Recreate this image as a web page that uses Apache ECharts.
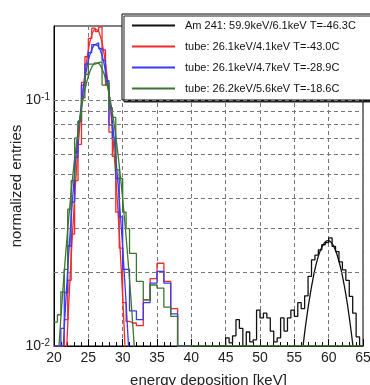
<!DOCTYPE html>
<html><head><meta charset="utf-8">
<script src="https://cdn.jsdelivr.net/npm/echarts/dist/echarts.min.js"></script>
<style>html,body{margin:0;padding:0;background:#fff}#c{width:370px;height:385px}</style>
</head><body><div id="c"></div>
<script>
// ---- data ----
const seriesNames = [
  'Am 241: 59.9keV/6.1keV T=-46.3C',
  'tube: 26.1keV/4.1keV T=-43.0C',
  'tube: 26.1keV/4.7keV T=-28.9C',
  'tube: 26.2keV/5.6keV T=-18.6C'
];
const xTicks = [20, 25, 30, 35, 40, 45, 50, 55, 60, 65];
const yGridValues = [0.02, 0.03, 0.04, 0.05, 0.06, 0.07, 0.08, 0.09, 0.1];

// tube histograms: lower bin edges (keV), bin width 0.5 keV
const tubeBinLow = [20,20.5,21,21.5,22,22.5,23,23.5,24,24.5,25,25.5,26,26.5,27,27.5,28,28.5,29,29.5,
                    30,30.5,31,31.5,32,32.5,33,33.5,34,34.5,35,35.5,36,36.5,37,37.5,38,38.5,39,39.5];
const tubeBinWidth = 0.5;
const redHist = [0.0100,0.0100,0.0100,0.0128,0.0185,0.0285,0.0470,0.0660,0.1180,0.1500,
                 0.1780,0.1960,0.1900,0.1980,0.1600,0.1150,0.0740,0.0590,0.0350,0.0250,
                 0.0150,0.0126,0.0124,0.0124,0.0121,0.0121,0.0154,0.0154,0.0188,0.0188,
                 0.0217,0.0217,0.0183,0.0183,0.0142,0.0142,0.0100,0.0100,0.0100,0.0100];
const blueHist = [0.0100,0.0100,0.0118,0.0165,0.0255,0.0385,0.0585,0.0820,0.1150,0.1400,
                  0.1560,0.1680,0.1710,0.1620,0.1450,0.1200,0.0790,0.0700,0.0480,0.0335,
                  0.0205,0.0205,0.0139,0.0139,0.0128,0.0128,0.0150,0.0150,0.0180,0.0180,
                  0.0201,0.0201,0.0180,0.0180,0.0135,0.0135,0.0100,0.0100,0.0100,0.0100];
const greenHist = [0.0125,0.0134,0.0166,0.0205,0.0360,0.0470,0.0700,0.0820,0.1020,0.1270,
                   0.1400,0.1400,0.1420,0.1430,0.1150,0.1170,0.0930,0.0850,0.0520,0.0480,
                   0.0350,0.0300,0.0238,0.0238,0.0183,0.0183,0.0154,0.0154,0.0177,0.0177,
                   0.0172,0.0172,0.0144,0.0144,0.0132,0.0132,0.0100,0.0100,0.0100,0.0100];
const greenHistEnd = 65;

// Am 241 histogram: lower bin edges (keV), bin width 0.5 keV
const amBinLow = [44,44.5,45,45.5,46,46.5,47,47.5,48,48.5,49,49.5,50,50.5,51,51.5,52,52.5,53,53.5,
                  54,54.5,55,55.5,56,56.5,57,57.5,58,58.5,59,59.5,60,60.5,61,61.5,62,62.5,63,63.5,64,64.5];
const amBinWidth = 0.5;
const amHist = [0.0100,0.0100,0.0108,0.0103,0.0110,0.0128,0.0118,0.0100,0.0114,0.0104,
                0.0106,0.0140,0.0130,0.0136,0.0130,0.0115,0.0104,0.0108,0.0130,0.0115,
                0.0130,0.0140,0.0132,0.0150,0.0142,0.0160,0.0192,0.0224,0.0234,0.0246,
                0.0258,0.0263,0.0275,0.0254,0.0242,0.0220,0.0204,0.0185,0.0159,0.0136,
                0.0109,0.0100];

// fitted curves
const redFitE = [21.5,22,22.5,23,23.5,24,24.5,25,25.5,26,26.5,27,27.5,28,28.5,29,29.5,30,30.5];
const redFitV = [0.0059,0.0122,0.0230,0.0399,0.0639,0.0941,0.1277,0.1597,0.1837,0.1947,0.1899,0.1706,0.1411,0.1074,0.0753,0.0486,0.0289,0.0158,0.0080];
const blueFitE = [21,21.5,22,22.5,23,23.5,24,24.5,25,25.5,26,26.5,27,27.5,28,28.5,29,29.5,30,30.5,31];
const blueFitV = [0.0065,0.0119,0.0205,0.0332,0.0505,0.0722,0.0968,0.1220,0.1445,0.1606,0.1678,0.1647,0.1518,0.1315,0.1070,0.0818,0.0587,0.0396,0.0251,0.0149,0.0084];
const greenFitE = [20.5,21,21.5,22,22.5,23,23.5,24,24.5,25,25.5,26,26.5,27,27.5,28,28.5,29,29.5,30,30.5,31,31.5,32];
const greenFitV = [0.0081,0.0130,0.0202,0.0299,0.0424,0.0575,0.0746,0.0927,0.1100,0.1250,0.1360,0.1415,0.1409,0.1340,0.1223,0.1067,0.0890,0.0711,0.0543,0.0397,0.0278,0.0186,0.0119,0.0073];
const amFitE = [56,56.5,57,57.5,58,58.5,59,59.5,60,60.5,61,61.5,62,62.5,63,63.5,64];
const amFitV = [0.0086,0.0113,0.0143,0.0174,0.0205,0.0232,0.0252,0.0265,0.0268,0.0261,0.0245,0.0221,0.0193,0.0162,0.0131,0.0102,0.0076];

// ---- build ----
const colors = ['#111111', '#ee2a2a', '#3a3af2', '#3b7530'];
const FONT = 'Liberation Sans, Arial, sans-serif';

function hist(low, vals, width, endEdge) {
  const d = low.map((x, i) => [x, vals[i]]);
  const last = low[low.length - 1] + width;
  d.push([last, vals[vals.length - 1]]);
  if (endEdge !== undefined && endEdge > last) d.push([endEdge, vals[vals.length - 1]]);
  return d;
}
function pairs(xs, ys) { return xs.map((x, i) => [x, ys[i]]); }

function histSeries(name, data, color, z) {
  return { name, type: 'line', step: 'end', data, showSymbol: false, symbol: 'none',
           z, lineStyle: { color, width: 1.3 }, itemStyle: { color }, silent: true };
}
function fitSeries(name, data, color, z) {
  return { name, type: 'line', smooth: 0.3, data, showSymbol: false, symbol: 'none',
           z, lineStyle: { color, width: 1.3 }, itemStyle: { color }, silent: true };
}

const amSeries = histSeries(seriesNames[0], hist(amBinLow, amHist, amBinWidth), colors[0], 1);
amSeries.markLine = {
  silent: true, symbol: ['none', 'none'], label: { show: false },
  lineStyle: { color: '#777', width: 1, type: [4, 3] },
  data: yGridValues.map(v => ({ yAxis: v }))
};

const option = {
  backgroundColor: '#fff',
  animation: false,
  grid: { left: 54, right: 7, top: 26, bottom: 39, containLabel: false, outerBoundsMode: 'none',
          show: true, borderColor: '#000', borderWidth: 1, backgroundColor: 'transparent' },
  legend: {
    data: seriesNames, orient: 'vertical', left: 122, top: 14,
    padding: [5, 15, 5, 10], itemGap: 8, itemWidth: 43, itemHeight: 2, icon: 'rect',
    selectedMode: false, backgroundColor: '#fff', borderColor: '#000', borderWidth: 1,
    shadowColor: '#222', shadowOffsetX: 2, shadowOffsetY: 2, shadowBlur: 0,
    textStyle: { fontFamily: FONT, fontSize: 11, color: '#111', lineHeight: 13, padding: [0, 0, 0, 5] }
  },
  xAxis: {
    type: 'value', min: xTicks[0], max: xTicks[xTicks.length - 1], interval: 5,
    name: 'energy deposition [keV]', nameLocation: 'middle', nameGap: 27, nameMoveOverlap: false,
    nameTextStyle: { fontFamily: FONT, fontSize: 15, color: '#222' },
    axisLine: { show: true, lineStyle: { color: '#000', width: 1 } },
    axisTick: { show: true, inside: true, length: 7, lineStyle: { color: '#000' } },
    minorTick: { show: true, splitNumber: 5, length: 4, lineStyle: { color: '#000' } },
    axisLabel: { fontFamily: FONT, fontSize: 14, color: '#222', margin: 5 },
    splitLine: { show: true, lineStyle: { color: '#777', width: 1, type: [4, 3] } }
  },
  yAxis: {
    type: 'log', logBase: 10, min: 0.01, max: 0.2,
    name: 'normalized entries', nameLocation: 'middle', nameGap: 30, nameMoveOverlap: false,
    nameTextStyle: { fontFamily: FONT, fontSize: 15, color: '#222' },
    axisLine: { show: true, lineStyle: { color: '#000' } },
    axisTick: { show: false },
    splitLine: { show: false },
    axisLabel: {
      margin: 4, showMaxLabel: false,
      formatter: v => {
        const e = Math.log10(v);
        if (Math.abs(e - Math.round(e)) < 1e-6) return '{b|10}{s|' + Math.round(e) + '}';
        return '';
      },
      rich: {
        b: { fontFamily: FONT, fontSize: 14, color: '#222', lineHeight: 16 },
        s: { fontFamily: FONT, fontSize: 10, color: '#222', lineHeight: 16, verticalAlign: 'top', padding: [0, 0, 6, 0] }
      }
    }
  },
  series: [
    amSeries,
    fitSeries('fitAm', pairs(amFitE, amFitV), colors[0], 2),
    histSeries(seriesNames[1], hist(tubeBinLow, redHist, tubeBinWidth), colors[1], 2),
    fitSeries('fitRed', pairs(redFitE, redFitV), colors[1], 2),
    histSeries(seriesNames[2], hist(tubeBinLow, blueHist, tubeBinWidth), colors[2], 3),
    fitSeries('fitBlue', pairs(blueFitE, blueFitV), colors[2], 3),
    histSeries(seriesNames[3], hist(tubeBinLow, greenHist, tubeBinWidth, greenHistEnd), colors[3], 4),
    fitSeries('fitGreen', pairs(greenFitE, greenFitV), colors[3], 4)
  ]
};
const chart = echarts.init(document.getElementById('c'), null, { renderer: 'canvas' });
chart.setOption(option);
</script>
</body></html>
